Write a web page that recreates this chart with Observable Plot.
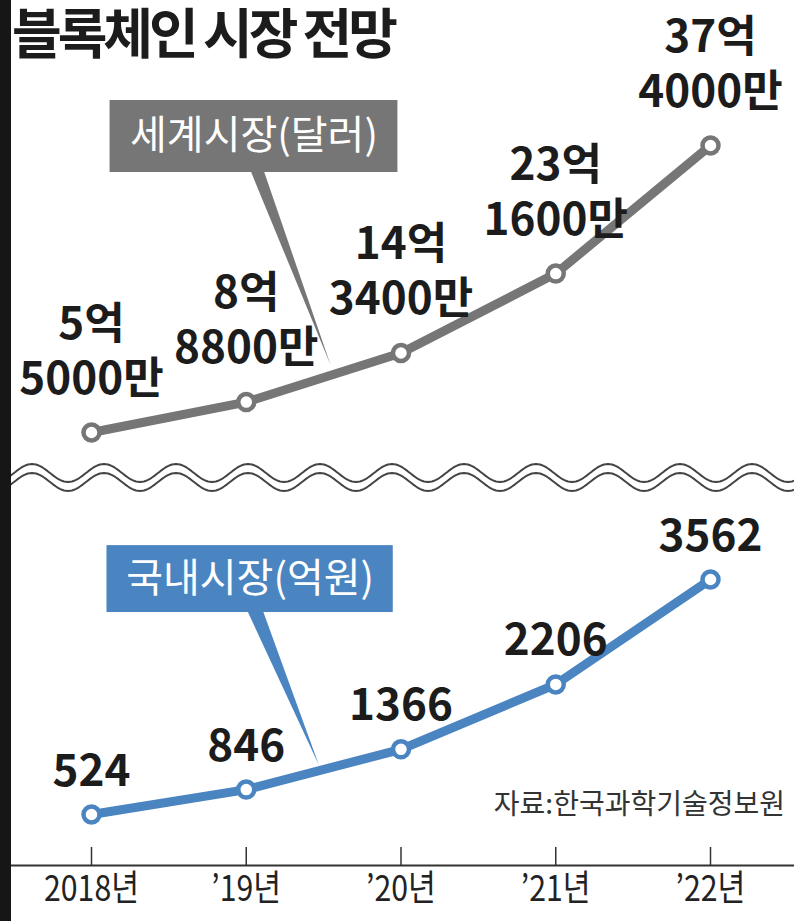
<!DOCTYPE html>
<html><head><meta charset="utf-8">
<script src="https://cdn.jsdelivr.net/npm/d3@7"></script>
<script src="https://cdn.jsdelivr.net/npm/@observablehq/plot@0.6"></script>
<style>
html,body{margin:0;padding:0;background:#fff;}
#chart{position:relative;width:794px;height:921px;overflow:hidden;background:#fff;}
#top{position:absolute;left:0;top:0;}
#wave{position:absolute;left:0;top:455px;}
#bottom{position:absolute;left:0;top:500px;}
#strip{position:absolute;left:0;top:0;width:11px;height:921px;background:#161616;}
#title{position:absolute;left:12px;top:4px;font-family:"Noto Sans CJK KR",sans-serif;font-weight:700;font-size:54px;letter-spacing:-4px;line-height:1;color:#1c1c1c;white-space:nowrap;}
#source{position:absolute;right:9px;top:788px;font-family:"Noto Sans CJK KR",sans-serif;font-size:28px;line-height:1;color:#333;white-space:nowrap;}
</style></head>
<body>
<div id="chart">
  <div id="top"></div>
  <div id="wave"></div>
  <div id="bottom"></div>
  <div id="strip"></div>
  <div id="title">블록체인 시장 전망</div>
  <div id="source">자료:한국과학기술정보원</div>
</div>
<script>
// ---- data ----
const years = [2018, 2019, 2020, 2021, 2022];
const yearLabels = ["2018년", "’19년", "’20년", "’21년", "’22년"];
const worldValues = [5.5, 8.88, 14.34, 23.16, 37.4];          // 억 달러
const worldLabelTop = ["5억", "8억", "14억", "23억", "37억"];
const worldLabelBottom = ["5000만", "8800만", "3400만", "1600만", "4000만"];
const domesticValues = [524, 846, 1366, 2206, 3562];          // 억원
const domesticLabels = ["524", "846", "1366", "2206", "3562"];
const worldName = "세계시장(달러)";
const domesticName = "국내시장(억원)";
// callout boxes (in data units of each panel)
const worldBox = [{x1: 2018.12, x2: 2019.98, y1: 34.4, y2: 42.4, text: worldName}];
const worldPointer = [{x: 2019.03, y: 34.5}, {x: 2019.115, y: 34.5}, {x: 2019.545, y: 13.0}];
const domesticBox = [{x1: 2018.10, x2: 2019.95, y1: 3135, y2: 4000, text: domesticName}];
const domesticPointer = [{x: 2019.01, y: 3145}, {x: 2019.11, y: 3145}, {x: 2019.47, y: 1160}];

const GRAY = "#767676";
const BLUE = "#4a85c1";
const CJK = '"Noto Sans CJK KR",sans-serif';

const world = years.map((year, i) => ({year, value: worldValues[i], top: worldLabelTop[i], bottom: worldLabelBottom[i]}));
const domestic = years.map((year, i) => ({year, value: domesticValues[i], label: domesticLabels[i]}));
const labelOf = new Map(years.map((y, i) => [y, yearLabels[i]]));

function squeeze(svg, label, sx) {
  svg.querySelectorAll(`g[aria-label="${label}"] text`).forEach(t => {
    const tr = t.getAttribute("transform") || "";
    t.setAttribute("transform", tr + ` scale(${sx},1)`);
  });
}

const labelStyle = {fontSize: 44, fontWeight: "bold", fontFamily: CJK, fill: "#1c1c1c", ariaLabel: "value-label"};

const topPlot = Plot.plot({
  width: 794, height: 455,
  margin: 0,
  style: {background: "transparent", overflow: "visible"},
  x: {domain: [2018, 2022], range: [91, 710], axis: null},
  y: {domain: [5.5, 37.4], range: [432, 145], axis: null},
  marks: [
    Plot.line(worldPointer, {x: "x", y: "y", fill: GRAY, stroke: "none"}),
    Plot.rect(worldBox, {x1: "x1", x2: "x2", y1: "y1", y2: "y2", fill: GRAY}),
    Plot.text(worldBox, {x: d => (d.x1 + d.x2) / 2, y: d => (d.y1 + d.y2) / 2, text: "text", fill: "white", fontSize: 40, fontFamily: CJK, ariaLabel: "box-label"}),
    Plot.line(world, {x: "year", y: "value", stroke: GRAY, strokeWidth: 9}),
    Plot.dot(world, {x: "year", y: "value", r: 8, fill: "white", stroke: GRAY, strokeWidth: 4.5}),
    Plot.text(world, {x: "year", y: "value", text: "top", dy: -108, ...labelStyle}),
    Plot.text(world, {x: "year", y: "value", text: "bottom", dy: -53, ...labelStyle})
  ]
});
squeeze(topPlot, "value-label", 0.87);
squeeze(topPlot, "box-label", 0.97);
document.getElementById("top").append(topPlot);

// decorative break symbol
(function () {
  const w = 794, h = 45;
  const svg = d3.select("#wave").append("svg").attr("width", w).attr("height", h);
  [18, 27].forEach(c => {
    const pts = d3.range(0, w + 2, 2).map(x => [x, c - 9 * Math.cos(2 * Math.PI * (x - 32) / 72)]);
    svg.append("path").attr("d", d3.line()(pts)).attr("fill", "none").attr("stroke", "#444").attr("stroke-width", 2);
  });
})();

const bottomPlot = Plot.plot({
  width: 794, height: 421,
  marginTop: 0, marginLeft: 11, marginRight: 0, marginBottom: 56,
  style: {background: "transparent", overflow: "visible"},
  x: {domain: [2018, 2022], range: [91, 710]},
  y: {domain: [524, 3562], range: [314, 79], axis: null},
  marks: [
    Plot.frame({anchor: "bottom", stroke: "#333", strokeWidth: 2}),
    Plot.axisX({ticks: years, tickSize: -18, tickFormat: () => "", stroke: "#333", strokeWidth: 1.5}),
    Plot.axisX({ticks: years, tickSize: 0, tickPadding: 10, tickFormat: d => labelOf.get(d), fontSize: 36, fontFamily: CJK, fill: "#222"}),
    Plot.line(domesticPointer, {x: "x", y: "y", fill: BLUE, stroke: "none"}),
    Plot.rect(domesticBox, {x1: "x1", x2: "x2", y1: "y1", y2: "y2", fill: BLUE}),
    Plot.text(domesticBox, {x: d => (d.x1 + d.x2) / 2, y: d => (d.y1 + d.y2) / 2, text: "text", fill: "white", fontSize: 40, fontFamily: CJK, ariaLabel: "box-label"}),
    Plot.line(domestic, {x: "year", y: "value", stroke: BLUE, strokeWidth: 9}),
    Plot.dot(domestic, {x: "year", y: "value", r: 8, fill: "white", stroke: BLUE, strokeWidth: 4.5}),
    Plot.text(domestic, {x: "year", y: "value", text: "label", dy: -43, ...labelStyle})
  ]
});
squeeze(bottomPlot, "value-label", 0.87);
squeeze(bottomPlot, "box-label", 0.97);
squeeze(bottomPlot, "x-axis tick label", 0.84);
document.getElementById("bottom").append(bottomPlot);
</script>
</body></html>
